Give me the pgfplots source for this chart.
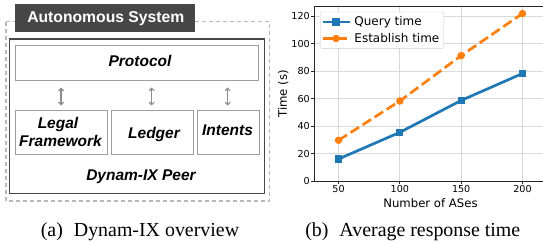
\documentclass[border=0pt]{standalone}
\usepackage{fontspec}
\setmainfont{Liberation Serif}
\newfontfamily\diagfont{Liberation Sans}
\newfontfamily\chartfont{DejaVu Sans}
\usepackage{pgfplots}
\pgfplotsset{compat=1.18}
\usetikzlibrary{arrows.meta}
\definecolor{mplblue}{HTML}{1F77B4}
\definecolor{mplorange}{HTML}{FF7F0E}
\begin{document}
\begin{tikzpicture}
% ---------------- (a) diagram ----------------
\begin{scope}[x=1pt,y=-1pt]
\draw[black!28, line width=1.2pt, dash pattern=on 4pt off 3pt] (6,21.7) rectangle (269.5,201);
\fill[black!72] (15,4) rectangle (195,31.7);
\node[white, anchor=base, inner sep=0pt, font=\diagfont\bfseries\fontsize{15.7}{17}\selectfont] at (105.8,22.3) {Autonomous System};
\draw[black!72, line width=1.6pt] (9.3,39) rectangle (264.5,193.3);
\draw[black!38, line width=0.9pt] (15.7,45) rectangle (258.3,80.7);
\node[anchor=base, inner sep=0pt, font=\diagfont\bfseries\itshape\fontsize{15.5}{17}\selectfont] at (140,67) {Protocol};
\foreach \xx in {61,151.7,227.7}{
  \draw[black!45, line width=1.2pt, {Straight Barb[length=2.5pt,width=5pt]}-{Straight Barb[length=2.5pt,width=5pt]}] (\xx,87.5)--(\xx,105.5);
}
\draw[black!38, line width=0.9pt] (15.7,110) rectangle (107.3,154.3);
\draw[black!38, line width=0.9pt] (111,110) rectangle (193.3,154.3);
\draw[black!38, line width=0.9pt] (197,110) rectangle (259,154.3);
\node[anchor=base, inner sep=0pt, font=\diagfont\bfseries\itshape\fontsize{15.5}{17}\selectfont] at (58,128.5) {Legal};
\node[anchor=base, inner sep=0pt, font=\diagfont\bfseries\itshape\fontsize{15.5}{17}\selectfont] at (60.5,146.5) {Framework};
\node[anchor=base, inner sep=0pt, font=\diagfont\bfseries\itshape\fontsize{15.5}{17}\selectfont] at (154,139) {Ledger};
\node[anchor=base, inner sep=0pt, font=\diagfont\bfseries\itshape\fontsize{15.5}{17}\selectfont] at (227.5,135.7) {Intents};
\node[anchor=base, inner sep=0pt, font=\diagfont\bfseries\itshape\fontsize{15.5}{17}\selectfont] at (141,180) {Dynam-IX Peer};
\node[anchor=base, inner sep=0pt, font=\fontsize{19.9}{22}\selectfont] at (140,236.7) {(a)\hspace{0.55em}Dynam-IX overview};
\node[anchor=base, inner sep=0pt, font=\fontsize{19.9}{22}\selectfont] at (412.8,236.7) {(b)\hspace{0.55em}Average response time};
\node[rotate=90, inner sep=0pt, font=\chartfont\fontsize{11.7}{13}\selectfont] at (283.3,94) {Time (s)};
\node[anchor=base, inner sep=0pt, font=\chartfont\fontsize{11.7}{13}\selectfont] at (430.5,207) {Number of ASes};
\end{scope}
% ---------------- (b) chart ----------------
\begin{axis}[
  at={(314pt,-181pt)}, anchor=south west,
  scale only axis, width=233pt, height=175pt,
  xmin=30, xmax=220, ymin=0, ymax=127.3,
  xtick={50,100,150,200}, ytick={0,20,40,60,80,100,120},
  xtick pos=left, ytick pos=left,
  tick align=outside, major tick length=3pt,
  grid=major, grid style={color=black!15, line width=0.8pt},
  axis line style={color=black!85, line width=0.9pt},
  tick style={color=black!85, line width=0.8pt},
  /pgf/number format/assume math mode=true,
  tick label style={font=\chartfont\fontsize{9.6}{11}\selectfont},
  yticklabel style={inner sep=1pt},
  xticklabel style={inner sep=1.2pt},
  legend cell align=left,
  legend image code/.code={\draw[mark repeat=2,mark phase=2,#1] plot coordinates {(0pt,0pt) (13.5pt,0pt) (27pt,0pt)};},
  legend style={at={(axis description cs:0.0258,0.967)}, anchor=north west,
    draw=black!20, rounded corners=2pt, fill=white,
    font=\chartfont\fontsize{12}{13}\selectfont,
    inner xsep=1pt, inner ysep=2pt, row sep=0.8pt,
    nodes={inner xsep=3.5pt, inner ysep=2.6pt}},
]
\addplot[color=mplblue, line width=2.7pt, mark=square*, mark size=2.3pt, mark options={solid}]
  coordinates {(50,16) (100,35.4) (150,58.6) (200,78.2)};
\addlegendentry{Query time}
\addplot[color=mplorange, line width=2.7pt, dash pattern=on 10pt off 4.3pt, mark=*, mark size=2.3pt, mark options={solid}]
  coordinates {(50,29.6) (100,58.2) (150,91.2) (200,121.8)};
\addlegendentry{Establish time}
\end{axis}
\pgfresetboundingbox
\path[use as bounding box] (0,0) rectangle (543pt,-243pt);
\end{tikzpicture}
\end{document}
